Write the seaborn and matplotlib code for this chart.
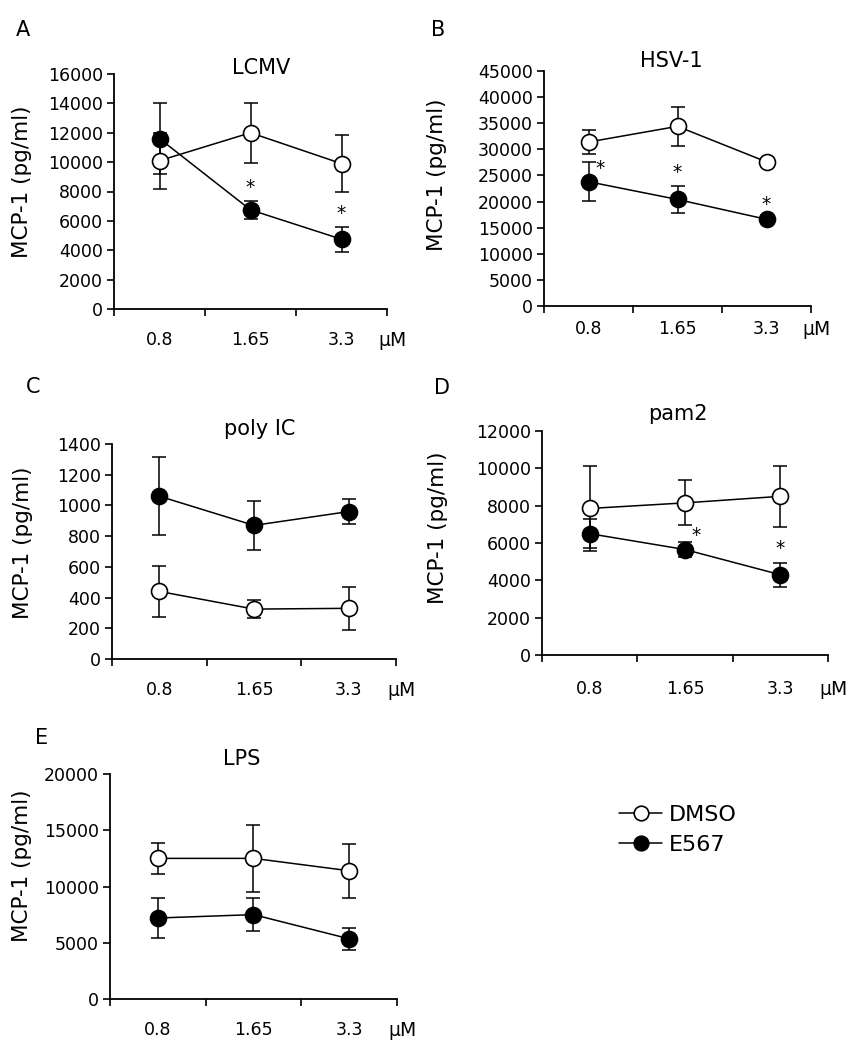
import numpy as np
import pandas as pd
import matplotlib
matplotlib.use("Agg")
import matplotlib.pyplot as plt
from matplotlib.lines import Line2D
import seaborn as sns

# doses on the x axis
doses = ["0.8", "1.65", "3.3"]

# LCMV
lcmv_dmso = [10100, 12000, 9900]
lcmv_dmso_err = [1900, 2050, 1950]
lcmv_e567 = [11600, 6750, 4750]
lcmv_e567_err = [2400, 600, 850]
lcmv_sig = [None, "above", "above"]

# HSV-1
hsv_dmso = [31400, 34400, 27600]
hsv_dmso_err = [2300, 3700, 400]
hsv_e567 = [23800, 20400, 16600]
hsv_e567_err = [3700, 2500, 300]
hsv_sig = ["right", "above", "above"]

# poly IC
polyic_dmso = [440, 325, 330]
polyic_dmso_err = [165, 60, 142]
polyic_e567 = [1060, 870, 960]
polyic_e567_err = [255, 160, 80]
polyic_sig = [None, None, None]

# pam2
pam2_dmso = [7850, 8150, 8500]
pam2_dmso_err = [2300, 1200, 1650]
pam2_e567 = [6500, 5650, 4300]
pam2_e567_err = [780, 400, 650]
pam2_sig = [None, "right", "above"]

# LPS
lps_dmso = [12500, 12500, 11400]
lps_dmso_err = [1350, 3000, 2400]
lps_e567 = [7200, 7500, 5350]
lps_e567_err = [1750, 1450, 950]
lps_sig = [None, None, None]

sns.set_style("ticks")
plt.rcParams['font.family'] = ['DejaVu Sans']
plt.rcParams.update({
    'text.color': 'black', 'axes.labelcolor': 'black', 'axes.edgecolor': 'black',
    'xtick.color': 'black', 'ytick.color': 'black',
})

W, H = 861, 1050
fig = plt.figure(figsize=(W / 100, H / 100), dpi=100)


def px_rect(left, right, top, bottom):
    return [left / W, 1 - bottom / H, (right - left) / W, (bottom - top) / H]


panels = [
    dict(letter="A", title="LCMV", rect=px_rect(114, 387, 74, 309), ymax=16000, ystep=2000,
         dmso=lcmv_dmso, dmso_err=lcmv_dmso_err, e567=lcmv_e567, e567_err=lcmv_e567_err, sig=lcmv_sig,
         title_xy=(0.54, 0.0), letter_xy=(23, 30), ylab=(-0.30, 0.54), xpad=16),
    dict(letter="B", title="HSV-1", rect=px_rect(544, 811, 71, 306), ymax=45000, ystep=5000,
         dmso=hsv_dmso, dmso_err=hsv_dmso_err, e567=hsv_e567, e567_err=hsv_e567_err, sig=hsv_sig,
         title_xy=(0.476, 0.017), letter_xy=(438, 30), ylab=(-0.363, 0.557), xpad=10),
    dict(letter="C", title="poly IC", rect=px_rect(112, 396, 444, 659), ymax=1400, ystep=200,
         dmso=polyic_dmso, dmso_err=polyic_dmso_err, e567=polyic_e567, e567_err=polyic_e567_err, sig=polyic_sig,
         title_xy=(0.52, 0.04), letter_xy=(33, 387), ylab=(-0.278, 0.54), xpad=16),
    dict(letter="D", title="pam2", rect=px_rect(542, 828, 431, 655), ymax=12000, ystep=2000,
         dmso=pam2_dmso, dmso_err=pam2_dmso_err, e567=pam2_e567, e567_err=pam2_e567_err, sig=pam2_sig,
         title_xy=(0.475, 0.05), letter_xy=(442, 388), ylab=(-0.329, 0.57), xpad=18),
    dict(letter="E", title="LPS", rect=px_rect(110, 397, 774, 999), ymax=20000, ystep=5000,
         dmso=lps_dmso, dmso_err=lps_dmso_err, e567=lps_e567, e567_err=lps_e567_err, sig=lps_sig,
         title_xy=(0.46, 0.04), letter_xy=(42, 738), ylab=(-0.272, 0.59), xpad=16),
]

marker_kw = dict(marker="o", markersize=11.5, markeredgecolor="black", markeredgewidth=1.2)

for p in panels:
    ax = fig.add_axes(p["rect"])
    pos = np.arange(len(doses))
    for vals, errs, face in [(p["dmso"], p["dmso_err"], "white"), (p["e567"], p["e567_err"], "black")]:
        ax.errorbar(pos, vals, yerr=errs, fmt="none", ecolor="black", elinewidth=1.1,
                    capsize=5, capthick=1.1, zorder=2)
        df = pd.DataFrame({"pos": pos, "value": vals})
        sns.lineplot(data=df, x="pos", y="value", ax=ax, color="black", lw=1.1,
                     markerfacecolor=face, zorder=3, **marker_kw)

    # significance stars over E567 points
    for i, s in enumerate(p["sig"]):
        if s is None:
            continue
        top = p["e567"][i] + p["e567_err"][i]
        if s == "above":
            ax.annotate("*", xy=(pos[i], top), xytext=(0, 3), textcoords="offset points",
                        ha="center", va="bottom", fontsize=13.5)
        else:
            ax.annotate("*", xy=(pos[i], p["e567"][i]), xytext=(8, 3), textcoords="offset points",
                        ha="center", va="bottom", fontsize=13.5)

    ax.set_xlim(-0.5, len(doses) - 0.5)
    ax.set_ylim(0, p["ymax"])
    ax.set_yticks(np.arange(0, p["ymax"] + 1, p["ystep"]))
    ax.set_xticks(np.arange(-0.5, len(doses), 1.0))
    ax.set_xticklabels([])
    ax.set_xticks(pos, minor=True)
    ax.set_xticklabels(doses, minor=True)
    ax.tick_params(axis="x", which="major", length=5, width=1.2, direction="out")
    ax.tick_params(axis="x", which="minor", length=0, pad=p["xpad"], labelsize=12.5)
    ax.tick_params(axis="y", length=5, width=1.2, pad=3, labelsize=12.5)
    for sp in ["left", "bottom"]:
        ax.spines[sp].set_linewidth(1.3)
    sns.despine(ax=ax)

    ax.set_xlabel("")
    ax.set_ylabel("MCP-1 (pg/ml)", fontsize=15.5)
    ax.yaxis.set_label_coords(*p["ylab"])

    ax.annotate("μM", xy=(1.0, 0), xycoords="axes fraction", xytext=(4, -p["xpad"]),
                textcoords="offset points", ha="center", va="top", fontsize=13.5)
    ax.text(p["title_xy"][0], 1 + p["title_xy"][1], p["title"], transform=ax.transAxes,
            ha="center", va="baseline", fontsize=15)
    fig.text(p["letter_xy"][0] / W, 1 - p["letter_xy"][1] / H, p["letter"],
             ha="center", va="center", fontsize=15)

handles = [
    Line2D([], [], color="black", lw=1.1, markerfacecolor="white", **dict(marker_kw, markersize=10.5)),
    Line2D([], [], color="black", lw=1.1, markerfacecolor="black", **dict(marker_kw, markersize=10.5)),
]
fig.legend(handles, ["DMSO", "E567"], loc="center left", bbox_to_anchor=(619 / W, 1 - 830 / H),
           frameon=False, fontsize=16, handlelength=1.95, handletextpad=0.3,
           labelspacing=0.45, borderpad=0, borderaxespad=0)

fig.savefig("out.png", dpi=100)
